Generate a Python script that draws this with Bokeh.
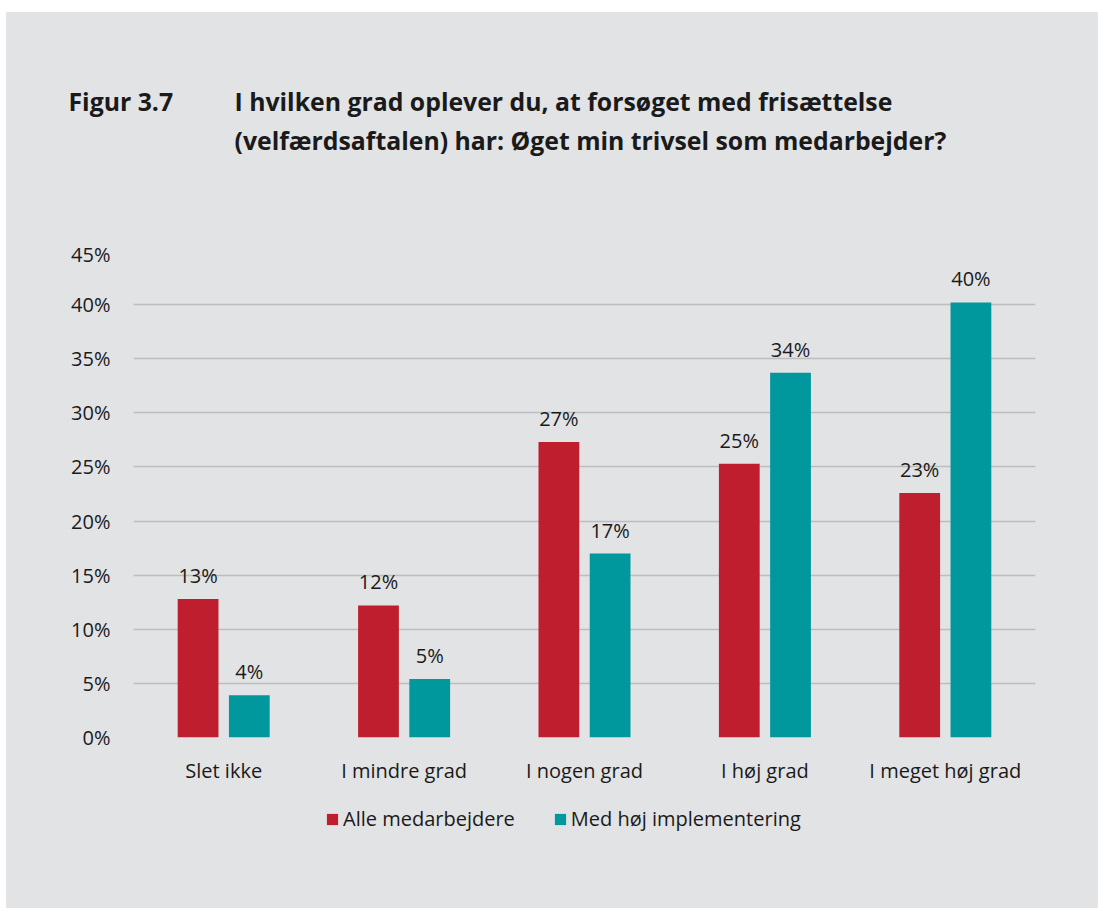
from bokeh.plotting import figure
from bokeh.layouts import column
from bokeh.models import (ColumnDataSource, FactorRange, FixedTicker, PrintfTickFormatter,
                          Label, LabelSet, Legend, LegendItem, Range1d)
from bokeh.core.properties import value
from bokeh.transform import dodge
from bokeh.embed import file_html
from bokeh.resources import INLINE

categories = ["Slet ikke", "I mindre grad", "I nogen grad", "I høj grad", "I meget høj grad"]
alle = [12.8, 12.2, 27.3, 25.3, 22.6]
hoej = [3.9, 5.4, 17.0, 33.7, 40.2]
series_names = ["Alle medarbejdere", "Med høj implementering"]
y_ticks = [0, 5, 10, 15, 20, 25, 30, 35, 40, 45]
title_fig = "Figur 3.7"
title_lines = ["I hvilken grad oplever du, at forsøget med frisættelse",
               "(velfærdsaftalen) har: Øget min trivsel som medarbejder?"]

RED = "#be1e2d"
TEAL = "#00979d"
BG = "#e2e3e5"
FONT = "Open Sans"
TXT = "#1a1a1a"
W = 1092

common = dict(output_backend="svg", toolbar_location=None, frame_align=False)

# ---------- title panel ----------
pt = figure(width=W, height=228, x_range=Range1d(6, 1098), y_range=Range1d(240, 12),
            x_axis_location=None, y_axis_location=None, min_border=0, **common)
pt.background_fill_color = BG
pt.border_fill_color = BG
pt.outline_line_color = None
pt.grid.visible = False
title_kw = dict(text_font=FONT, text_font_size="24.8px", text_font_style="bold",
                text_color=TXT, text_baseline="alphabetic")
pt.add_layout(Label(x=68, y=100, text=title_fig, **title_kw))
pt.add_layout(Label(x=234, y=100, text=title_lines[0], **title_kw))
pt.add_layout(Label(x=234, y=139, text=title_lines[1], **title_kw))

# ---------- main chart ----------
src = ColumnDataSource(dict(
    cat=categories,
    alle=alle,
    hoej=hoej,
    alle_lbl=[f"{round(v)}%" for v in alle],
    hoej_lbl=[f"{round(v)}%" for v in hoej],
))

p = figure(x_range=FactorRange(factors=categories, range_padding=0),
           y_range=Range1d(0, 45),
           width=W, height=555,
           min_border_left=127, min_border_right=63,
           min_border_top=10, min_border_bottom=58, **common)
p.background_fill_color = BG
p.border_fill_color = BG
p.outline_line_color = None

r1 = p.vbar(x=dodge("cat", -0.142, range=p.x_range), top="alle", width=0.226,
            source=src, fill_color=RED, line_color=None)
r2 = p.vbar(x=dodge("cat", 0.142, range=p.x_range), top="hoej", width=0.226,
            source=src, fill_color=TEAL, line_color=None)

for col, lbl, off in (("alle", "alle_lbl", -0.142), ("hoej", "hoej_lbl", 0.142)):
    ls = LabelSet(x=dodge("cat", off, range=p.x_range), y=col, text=lbl, source=src,
                  text_align="center", text_baseline="bottom", y_offset=10,
                  text_font=value(FONT), text_font_size=value("20px"), text_color=TXT)
    p.add_layout(ls)

p.yaxis.ticker = FixedTicker(ticks=y_ticks)
p.yaxis.formatter = PrintfTickFormatter(format="%d%%")
p.yaxis.axis_line_color = None
p.yaxis.major_tick_line_color = None
p.yaxis.minor_tick_line_color = None
p.yaxis.major_tick_out = 0
p.yaxis.major_tick_in = 0
p.yaxis.major_label_standoff = 23
p.yaxis.major_label_text_font = FONT
p.yaxis.major_label_text_font_size = "20px"
p.yaxis.major_label_text_color = TXT

p.xaxis.axis_line_color = None
p.xaxis.major_tick_line_color = None
p.xaxis.minor_tick_line_color = None
p.xaxis.major_tick_out = 0
p.xaxis.major_tick_in = 0
p.xaxis.major_label_standoff = 19
p.xaxis.major_label_text_font = FONT
p.xaxis.major_label_text_font_size = "20px"
p.xaxis.major_label_text_color = TXT

p.xgrid.grid_line_color = None
p.ygrid.grid_line_color = "#bdbdbd"
p.ygrid.grid_line_width = 1.5
p.ygrid.ticker = FixedTicker(ticks=y_ticks)

# ---------- legend panel (hidden proxies of the two series) ----------
pl = figure(width=W, height=113, x_range=FactorRange(factors=categories),
            y_range=Range1d(1000, 1001),
            x_axis_location=None, y_axis_location=None, min_border=0, **common)
pl.background_fill_color = BG
pl.border_fill_color = BG
pl.outline_line_color = None
pl.grid.visible = False
e1 = pl.vbar(x="cat", top="alle", width=0.2, source=src, fill_color=RED, line_color=None)
e2 = pl.vbar(x="cat", top="hoej", width=0.2, source=src, fill_color=TEAL, line_color=None)
e1.visible = False
e2.visible = False
legend = Legend(items=[LegendItem(label=series_names[0], renderers=[e1]),
                       LegendItem(label=series_names[1], renderers=[e2])],
                orientation="horizontal", location=(319, 76),
                background_fill_alpha=0, border_line_color=None,
                glyph_width=14, glyph_height=14, label_standoff=4, spacing=38,
                padding=0, margin=0,
                label_text_font=FONT, label_text_font_size="20px", label_text_color=TXT)
pl.add_layout(legend, "center")

layout = column(pt, p, pl, spacing=0, margin=(12, 0, 0, 6),
                styles={"background-color": BG})
open("out.html", "w").write(file_html(layout, INLINE))
